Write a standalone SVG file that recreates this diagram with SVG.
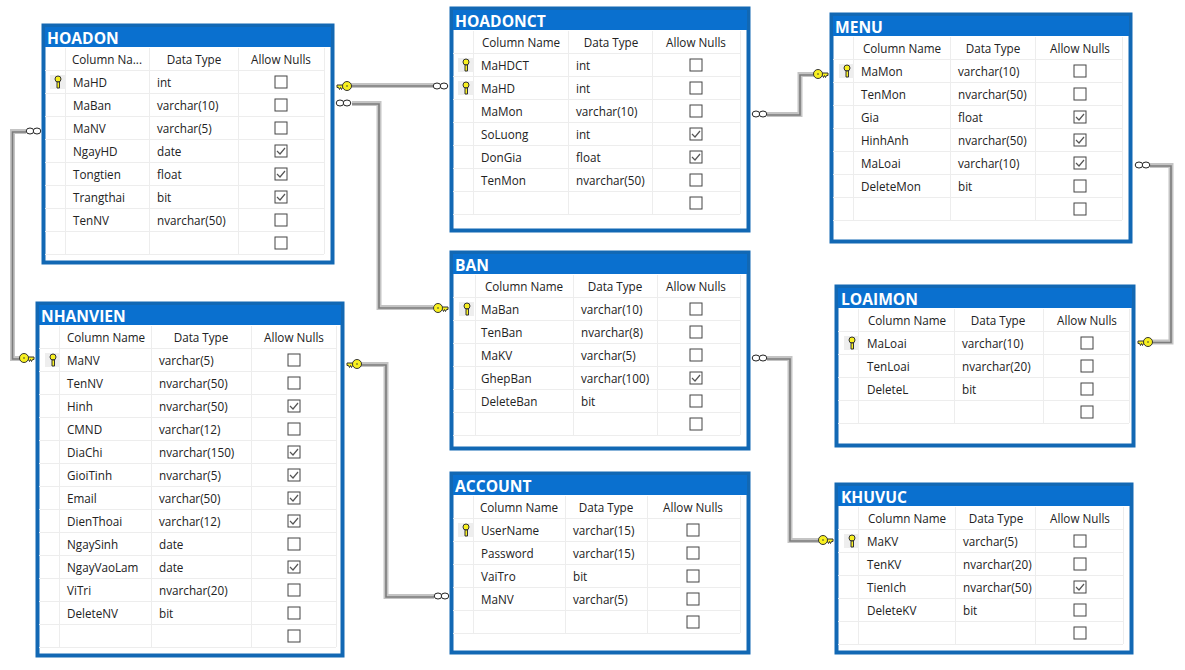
<svg xmlns="http://www.w3.org/2000/svg" width="1185" height="670" viewBox="0 0 1185 670">
<style>
text{font-family:"Open Sans","Noto Sans",sans-serif;font-size:11.7px;fill:#222;transform:translateY(.5px)}
.tt{font-family:"Open Sans","Noto Sans",sans-serif;font-size:15.600px;font-weight:700;fill:#fff;transform:none}
.h{text-anchor:middle}
.box{fill:#fff;stroke:#1268b4;stroke-width:4}
.bar{fill:#0a70cf}
.g{stroke:#ededed;stroke-width:1;fill:none}
.cb{fill:#fff;stroke:#444;stroke-width:1}
.ck{fill:none;stroke:#555;stroke-width:1.2}
.w1{fill:none;stroke:#c4c4c4;stroke-width:5}
.w2{fill:none;stroke:#7c7c7c;stroke-width:1.6}
.o{fill:#fff;stroke:#222;stroke-width:1}
.ky{fill:#f8f020;stroke:#333;stroke-width:1}
.kb{fill:#eee}
</style>
<defs>
<g id="cb"><rect class="cb" x="-6" y="-6" width="12" height="12"/></g>
<g id="cc"><rect class="cb" x="-6" y="-6" width="12" height="12"/><path class="ck" d="M-4 0l3 3 5-6"/></g>
<g id="pk"><rect class="kb" x="-7" y="-7" width="15" height="14"/><circle class="ky" cx="1" cy="-3" r="3"/><path class="ky" d="M0 0h2.500v6h-2.500z"/></g>
<g id="inf"><ellipse class="o" cx="4" cy="0" rx="3.800" ry="3"/><ellipse class="o" cx="11" cy="0" rx="3.800" ry="3"/></g>
<g id="kr"><path class="ky" d="M1 -1H8V1.500H6.500L5.500 3.500 4.500 1.500 3.500 3.500 2.500 1.500H1z"/><circle class="ky" cx="11" cy="0" r="4.500"/><circle cx="11" cy="0" r=".8" fill="#333"/></g>
</defs>

<g id="connectors">
<path class="w1" d="M351 85.500H434"/><path class="w2" d="M351 86H434"/>
<path class="w1" d="M352 103.500H379V307.500H433"/><path class="w2" d="M352 104H379V308H433"/>
<path class="w1" d="M26 131.500H12.500V358.500H20"/><path class="w2" d="M26 132H12.500V359H20"/>
<path class="w1" d="M767 114.500H800V74.500H814"/><path class="w2" d="M767 115H800V75H814"/>
<path class="w1" d="M1150 165.500H1171V342H1152"/><path class="w2" d="M1150 166H1171V342.500H1152"/>
<path class="w1" d="M767 358.500H790V540.500H820"/><path class="w2" d="M767 359H790V541H820"/>
<path class="w1" d="M361 364.500H386V596.500H434"/><path class="w2" d="M361 365H386V597H434"/>
<use href="#kr" x="336" y="86"/>
<use href="#inf" x="433" y="86"/>
<use href="#inf" x="336" y="103"/>
<use href="#kr" transform="translate(449 308) scale(-1 1)"/>
<use href="#inf" x="26" y="131"/>
<use href="#kr" transform="translate(35 358) scale(-1 1)"/>
<use href="#inf" x="752" y="114"/>
<use href="#kr" transform="translate(829 74) scale(-1 1)"/>
<use href="#inf" x="1135" y="165"/>
<use href="#kr" x="1137" y="342"/>
<use href="#inf" x="752" y="358"/>
<use href="#kr" transform="translate(834 540) scale(-1 1)"/>
<use href="#kr" x="346" y="364"/>
<use href="#inf" x="434" y="596"/>
</g>

<g id="HOADON">
<rect class="box" x="43.500" y="25.500" width="289" height="237"/>
<rect class="bar" x="45" y="27" width="286" height="20"/>
<text class="tt" x="47" y="44">HOADON</text>
<path class="g" d="M65.500 48V254M149.500 48V254M238.500 48V254M324.500 48V254M45 70.500H324M45 93.500H324M45 116.500H324M45 139.500H324M45 162.500H324M45 185.500H324M45 208.500H324M45 231.500H324M45 254.500H324"/>
<text class="h" x="107" y="63">Column Na...</text><text class="h" x="194" y="63">Data Type</text><text class="h" x="281" y="63">Allow Nulls</text>
<use href="#pk" x="57" y="82"/>
<text x="73" y="86">MaHD</text><text x="157" y="86">int</text><use href="#cb" x="281" y="82"/>
<text x="73" y="109">MaBan</text><text x="157" y="109">varchar(10)</text><use href="#cb" x="281" y="105"/>
<text x="73" y="132">MaNV</text><text x="157" y="132">varchar(5)</text><use href="#cb" x="281" y="128"/>
<text x="73" y="155">NgayHD</text><text x="157" y="155">date</text><use href="#cc" x="281" y="151"/>
<text x="73" y="178">Tongtien</text><text x="157" y="178">float</text><use href="#cc" x="281" y="174"/>
<text x="73" y="201">Trangthai</text><text x="157" y="201">bit</text><use href="#cc" x="281" y="197"/>
<text x="73" y="224">TenNV</text><text x="157" y="224">nvarchar(50)</text><use href="#cb" x="281" y="220"/>
<use href="#cb" x="281" y="243"/>
</g>

<g id="HOADONCT">
<rect class="box" x="451.500" y="8.500" width="297" height="222"/>
<rect class="bar" x="453" y="10" width="294" height="20"/>
<text class="tt" x="455" y="27">HOADONCT</text>
<path class="g" d="M473.500 31V214M568.500 31V214M652.500 31V214M740.500 31V214M453 53.500H740M453 76.500H740M453 99.500H740M453 122.500H740M453 145.500H740M453 168.500H740M453 191.500H740M453 214.500H740"/>
<text class="h" x="521" y="46">Column Name</text><text class="h" x="611" y="46">Data Type</text><text class="h" x="696" y="46">Allow Nulls</text>
<use href="#pk" x="465" y="65"/><use href="#pk" x="465" y="88"/>
<text x="481" y="69">MaHDCT</text><text x="576" y="69">int</text><use href="#cb" x="696" y="65"/>
<text x="481" y="92">MaHD</text><text x="576" y="92">int</text><use href="#cb" x="696" y="88"/>
<text x="481" y="115">MaMon</text><text x="576" y="115">varchar(10)</text><use href="#cb" x="696" y="111"/>
<text x="481" y="138">SoLuong</text><text x="576" y="138">int</text><use href="#cc" x="696" y="134"/>
<text x="481" y="161">DonGia</text><text x="576" y="161">float</text><use href="#cc" x="696" y="157"/>
<text x="481" y="184">TenMon</text><text x="576" y="184">nvarchar(50)</text><use href="#cb" x="696" y="180"/>
<use href="#cb" x="696" y="203"/>
</g>

<g id="MENU">
<rect class="box" x="831.500" y="14.500" width="299" height="227"/>
<rect class="bar" x="833" y="16" width="296" height="20"/>
<text class="tt" x="835" y="33">MENU</text>
<path class="g" d="M853.500 37V220M950.500 37V220M1035.500 37V220M1122.500 37V220M833 59.500H1122M833 82.500H1122M833 105.500H1122M833 128.500H1122M833 151.500H1122M833 174.500H1122M833 197.500H1122M833 220.500H1122"/>
<text class="h" x="902" y="52">Column Name</text><text class="h" x="993" y="52">Data Type</text><text class="h" x="1080" y="52">Allow Nulls</text>
<use href="#pk" x="846" y="71"/>
<text x="861" y="75">MaMon</text><text x="958" y="75">varchar(10)</text><use href="#cb" x="1080" y="71"/>
<text x="861" y="98">TenMon</text><text x="958" y="98">nvarchar(50)</text><use href="#cb" x="1080" y="94"/>
<text x="861" y="121">Gia</text><text x="958" y="121">float</text><use href="#cc" x="1080" y="117"/>
<text x="861" y="144">HinhAnh</text><text x="958" y="144">nvarchar(50)</text><use href="#cc" x="1080" y="140"/>
<text x="861" y="167">MaLoai</text><text x="958" y="167">varchar(10)</text><use href="#cc" x="1080" y="163"/>
<text x="861" y="190">DeleteMon</text><text x="958" y="190">bit</text><use href="#cb" x="1080" y="186"/>
<use href="#cb" x="1080" y="209"/>
</g>

<g id="LOAIMON">
<rect class="box" x="836.500" y="286.500" width="297" height="159"/>
<rect class="bar" x="838" y="288" width="294" height="20"/>
<text class="tt" x="841" y="305">LOAIMON</text>
<path class="g" d="M858.500 309V423M954.500 309V423M1043.500 309V423M1129.500 309V423M838 331.500H1129M838 354.500H1129M838 377.500H1129M838 400.500H1129M838 423.500H1129"/>
<text class="h" x="907" y="324">Column Name</text><text class="h" x="998" y="324">Data Type</text><text class="h" x="1087" y="324">Allow Nulls</text>
<use href="#pk" x="851" y="343"/>
<text x="867" y="347">MaLoai</text><text x="962" y="347">varchar(10)</text><use href="#cb" x="1087" y="343"/>
<text x="867" y="370">TenLoai</text><text x="962" y="370">nvarchar(20)</text><use href="#cb" x="1087" y="366"/>
<text x="867" y="393">DeleteL</text><text x="962" y="393">bit</text><use href="#cb" x="1087" y="389"/>
<use href="#cb" x="1087" y="412"/>
</g>

<g id="BAN">
<rect class="box" x="451.500" y="252.500" width="297" height="196"/>
<rect class="bar" x="453" y="254" width="294" height="20"/>
<text class="tt" x="455" y="271">BAN</text>
<path class="g" d="M475.500 275V435M573.500 275V435M657.500 275V435M740.500 275V435M453 297.500H740M453 320.500H740M453 343.500H740M453 366.500H740M453 389.500H740M453 412.500H740M453 435.500H740"/>
<text class="h" x="524" y="290">Column Name</text><text class="h" x="615" y="290">Data Type</text><text class="h" x="696" y="290">Allow Nulls</text>
<use href="#pk" x="466" y="309"/>
<text x="481" y="313">MaBan</text><text x="581" y="313">varchar(10)</text><use href="#cb" x="696" y="309"/>
<text x="481" y="336">TenBan</text><text x="581" y="336">nvarchar(8)</text><use href="#cb" x="696" y="332"/>
<text x="481" y="359">MaKV</text><text x="581" y="359">varchar(5)</text><use href="#cb" x="696" y="355"/>
<text x="481" y="382">GhepBan</text><text x="581" y="382">varchar(100)</text><use href="#cc" x="696" y="378"/>
<text x="481" y="405">DeleteBan</text><text x="581" y="405">bit</text><use href="#cb" x="696" y="401"/>
<use href="#cb" x="696" y="424"/>
</g>

<g id="ACCOUNT">
<rect class="box" x="451.500" y="473.500" width="297" height="179"/>
<rect class="bar" x="453" y="475" width="294" height="20"/>
<text class="tt" x="455" y="492">ACCOUNT</text>
<path class="g" d="M473.500 496V633M565.500 496V633M647.500 496V633M740.500 496V633M453 518.500H740M453 541.500H740M453 564.500H740M453 587.500H740M453 610.500H740M453 633.500H740"/>
<text class="h" x="519" y="511">Column Name</text><text class="h" x="606" y="511">Data Type</text><text class="h" x="693" y="511">Allow Nulls</text>
<use href="#pk" x="465" y="530"/>
<text x="481" y="534">UserName</text><text x="573" y="534">varchar(15)</text><use href="#cb" x="693" y="530"/>
<text x="481" y="557">Password</text><text x="573" y="557">varchar(15)</text><use href="#cb" x="693" y="553"/>
<text x="481" y="580">VaiTro</text><text x="573" y="580">bit</text><use href="#cb" x="693" y="576"/>
<text x="481" y="603">MaNV</text><text x="573" y="603">varchar(5)</text><use href="#cb" x="693" y="599"/>
<use href="#cb" x="693" y="622"/>
</g>

<g id="KHUVUC">
<rect class="box" x="836.500" y="484.500" width="295" height="168"/>
<rect class="bar" x="838" y="486" width="292" height="20"/>
<text class="tt" x="841" y="503">KHUVUC</text>
<path class="g" d="M858.500 507V644M955.500 507V644M1035.500 507V644M1123.500 507V644M838 529.500H1123M838 552.500H1123M838 575.500H1123M838 598.500H1123M838 621.500H1123M838 644.500H1123"/>
<text class="h" x="907" y="522">Column Name</text><text class="h" x="996" y="522">Data Type</text><text class="h" x="1080" y="522">Allow Nulls</text>
<use href="#pk" x="851" y="541"/>
<text x="867" y="545">MaKV</text><text x="963" y="545">varchar(5)</text><use href="#cb" x="1080" y="541"/>
<text x="867" y="568">TenKV</text><text x="963" y="568">nvarchar(20)</text><use href="#cb" x="1080" y="564"/>
<text x="867" y="591">TienIch</text><text x="963" y="591">nvarchar(50)</text><use href="#cc" x="1080" y="587"/>
<text x="867" y="614">DeleteKV</text><text x="963" y="614">bit</text><use href="#cb" x="1080" y="610"/>
<use href="#cb" x="1080" y="633"/>
</g>

<g id="NHANVIEN">
<rect class="box" x="37.500" y="303.500" width="305" height="352"/>
<rect class="bar" x="39" y="305" width="302" height="20"/>
<text class="tt" x="41" y="322">NHANVIEN</text>
<path class="g" d="M59.500 326V647M151.500 326V647M251.500 326V647M336.500 326V647M39 348.500H336M39 371.500H336M39 394.500H336M39 417.500H336M39 440.500H336M39 463.500H336M39 486.500H336M39 509.500H336M39 532.500H336M39 555.500H336M39 578.500H336M39 601.500H336M39 624.500H336M39 647.500H336"/>
<text class="h" x="106" y="341">Column Name</text><text class="h" x="201" y="341">Data Type</text><text class="h" x="294" y="341">Allow Nulls</text>
<use href="#pk" x="52" y="360"/>
<text x="67" y="364">MaNV</text><text x="159" y="364">varchar(5)</text><use href="#cb" x="294" y="360"/>
<text x="67" y="387">TenNV</text><text x="159" y="387">nvarchar(50)</text><use href="#cb" x="294" y="383"/>
<text x="67" y="410">Hinh</text><text x="159" y="410">nvarchar(50)</text><use href="#cc" x="294" y="406"/>
<text x="67" y="433">CMND</text><text x="159" y="433">varchar(12)</text><use href="#cb" x="294" y="429"/>
<text x="67" y="456">DiaChi</text><text x="159" y="456">nvarchar(150)</text><use href="#cc" x="294" y="452"/>
<text x="67" y="479">GioiTinh</text><text x="159" y="479">nvarchar(5)</text><use href="#cc" x="294" y="475"/>
<text x="67" y="502">Email</text><text x="159" y="502">varchar(50)</text><use href="#cc" x="294" y="498"/>
<text x="67" y="525">DienThoai</text><text x="159" y="525">varchar(12)</text><use href="#cc" x="294" y="521"/>
<text x="67" y="548">NgaySinh</text><text x="159" y="548">date</text><use href="#cb" x="294" y="544"/>
<text x="67" y="571">NgayVaoLam</text><text x="159" y="571">date</text><use href="#cc" x="294" y="567"/>
<text x="67" y="594">ViTri</text><text x="159" y="594">nvarchar(20)</text><use href="#cb" x="294" y="590"/>
<text x="67" y="617">DeleteNV</text><text x="159" y="617">bit</text><use href="#cb" x="294" y="613"/>
<use href="#cb" x="294" y="636"/>
</g>
</svg>
